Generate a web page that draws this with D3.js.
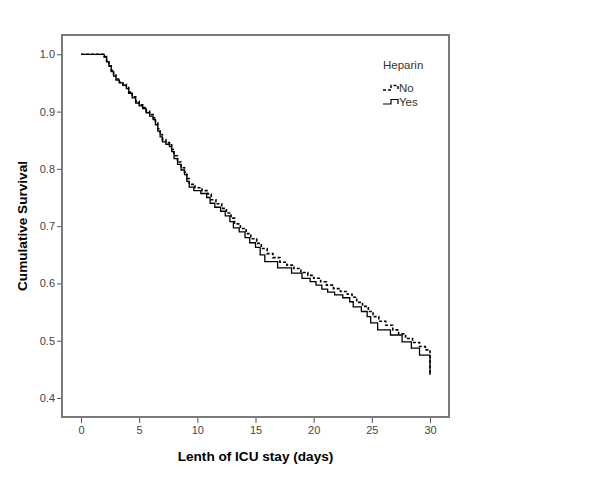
<!DOCTYPE html>
<html>
<head>
<meta charset="utf-8">
<script src="https://cdn.jsdelivr.net/npm/d3@7"></script>
<style>
  body { margin: 0; background: #fff; }
  text { font-family: Arial, "Liberation Sans", sans-serif; }
</style>
</head>
<body>
<svg id="svg" width="600" height="480"></svg>
<script>
// Kaplan-Meier curves (day, cumulative survival after the step)
const yesDays = [0, 2.0, 2.2, 2.4, 2.6, 2.8, 3.0, 3.3, 3.6, 3.9, 4.1, 4.4, 4.7, 5.0, 5.3, 5.6, 5.9, 6.2, 6.4, 6.6, 6.8, 7.0, 7.3, 7.6, 7.8, 8.0, 8.3, 8.6, 8.9, 9.1, 9.3, 9.7, 10.3, 10.8, 11.1, 11.5, 12.0, 12.4, 12.8, 13.1, 13.6, 14.1, 14.5, 15.0, 15.4, 15.8, 16.9, 18.1, 19.0, 19.7, 20.2, 20.7, 21.2, 21.8, 22.5, 23.1, 23.4, 24.1, 24.6, 24.9, 25.5, 26.6, 27.6, 28.4, 29.1, 30.0];
const yesSurv = [1.0, 0.995, 0.987, 0.979, 0.970, 0.962, 0.955, 0.950, 0.946, 0.940, 0.932, 0.924, 0.915, 0.910, 0.905, 0.898, 0.892, 0.886, 0.877, 0.866, 0.856, 0.847, 0.843, 0.839, 0.830, 0.818, 0.808, 0.798, 0.790, 0.778, 0.768, 0.762, 0.757, 0.750, 0.740, 0.733, 0.726, 0.718, 0.708, 0.697, 0.690, 0.680, 0.671, 0.663, 0.650, 0.638, 0.627, 0.618, 0.609, 0.603, 0.597, 0.590, 0.585, 0.580, 0.575, 0.568, 0.559, 0.551, 0.542, 0.531, 0.519, 0.510, 0.498, 0.487, 0.475, 0.440];

const noDays = [0, 2.0, 2.2, 2.4, 2.6, 2.8, 3.0, 3.3, 3.6, 3.9, 4.1, 4.4, 4.7, 5.0, 5.3, 5.6, 5.9, 6.2, 6.4, 6.6, 6.8, 7.0, 7.3, 7.6, 7.8, 8.0, 8.3, 8.6, 8.9, 9.1, 9.3, 9.8, 10.4, 10.9, 11.2, 11.6, 12.1, 12.5, 12.9, 13.2, 13.7, 14.2, 14.6, 15.1, 15.5, 16.0, 16.5, 17.1, 17.7, 18.3, 18.9, 19.5, 20.0, 20.6, 21.1, 21.7, 22.3, 22.9, 23.3, 23.7, 24.2, 24.7, 25.1, 25.6, 26.2, 26.8, 27.3, 27.9, 28.5, 29.1, 29.6, 30.0];
const noSurv = [1.0, 0.996, 0.988, 0.980, 0.972, 0.964, 0.957, 0.951, 0.947, 0.942, 0.934, 0.926, 0.918, 0.912, 0.907, 0.901, 0.895, 0.889, 0.880, 0.870, 0.860, 0.851, 0.846, 0.842, 0.834, 0.823, 0.812, 0.802, 0.794, 0.783, 0.773, 0.767, 0.762, 0.756, 0.746, 0.739, 0.731, 0.723, 0.714, 0.704, 0.696, 0.687, 0.678, 0.670, 0.661, 0.652, 0.645, 0.637, 0.632, 0.626, 0.619, 0.614, 0.609, 0.603, 0.597, 0.591, 0.586, 0.581, 0.576, 0.567, 0.560, 0.551, 0.542, 0.534, 0.527, 0.519, 0.512, 0.504, 0.497, 0.490, 0.484, 0.440];

const xTicks = [0, 5, 10, 15, 20, 25, 30];
const yTicks = [0.4, 0.5, 0.6, 0.7, 0.8, 0.9, 1.0];
const groups = ["No", "Yes"];

const svg = d3.select("#svg");
const frame = { left: 62, right: 449, top: 35, bottom: 417 };

const x = d3.scaleLinear().domain([0, 30]).range([81, 430]);
const y = d3.scaleLinear().domain([0.4, 1.0]).range([398, 54.3]);

// y axis ticks
const yAxis = svg.append("g")
  .attr("transform", "translate(" + frame.left + ",0)")
  .call(d3.axisLeft(y).tickValues(yTicks).tickFormat(d3.format(".1f")).tickSize(5).tickPadding(2));
yAxis.select(".domain").remove();
yAxis.selectAll("line").attr("stroke", "#555");
yAxis.selectAll("text").attr("fill", "#444").style("font-size", "11px");

// x axis ticks, hanging below the frame
const xAxis = svg.append("g")
  .attr("transform", "translate(0," + frame.bottom + ")")
  .call(d3.axisBottom(x).tickValues(xTicks).tickSize(6).tickPadding(3));
xAxis.select(".domain").remove();
xAxis.selectAll("line").attr("stroke", "#555");
xAxis.selectAll("text").attr("fill", "#444").style("font-size", "11px");

// plot frame
svg.append("rect")
  .attr("x", frame.left)
  .attr("y", frame.top)
  .attr("width", frame.right - frame.left)
  .attr("height", frame.bottom - frame.top)
  .attr("fill", "none")
  .attr("stroke", "#7a7a7a")
  .attr("stroke-width", 2);

const line = d3.line()
  .x((d) => x(d[0]))
  .y((d) => y(d[1]))
  .curve(d3.curveStepAfter);

// step curve, the last step at day 30 is a straight vertical drop
function kmPath(days, surv) {
  const pts = days.slice(0, -1).map((d, i) => [d, surv[i]]);
  const n = days.length - 1;
  pts.push([days[n], surv[n - 1]]);
  return line(pts) + "L" + x(days[n]) + "," + y(surv[n]);
}

svg.append("path")
  .attr("d", kmPath(yesDays, yesSurv))
  .attr("fill", "none")
  .attr("stroke", "#000")
  .attr("stroke-width", 1.3);

svg.append("path")
  .attr("d", kmPath(noDays, noSurv))
  .attr("fill", "none")
  .attr("stroke", "#000")
  .attr("stroke-width", 1.6)
  .attr("stroke-dasharray", "3,2");

// legend
const legend = svg.append("g");
legend.append("text")
  .attr("x", 383)
  .attr("y", 69)
  .attr("fill", "#333")
  .style("font-size", "11.5px")
  .text("Heparin");

groups.forEach((g, i) => {
  const ly = 90 + i * 14;
  legend.append("path")
    .attr("d", "M383," + ly + "H391V" + (ly - 4.5) + "H398V" + ly)
    .attr("fill", "none")
    .attr("stroke", "#000")
    .attr("stroke-width", g === "No" ? 1.5 : 1.2)
    .attr("stroke-dasharray", g === "No" ? "3,2" : null);
  legend.append("text")
    .attr("x", 399)
    .attr("y", ly + 2)
    .attr("fill", "#333")
    .style("font-size", "11.5px")
    .text(g);
});

// axis titles
svg.append("text")
  .attr("x", (frame.left + frame.right) / 2)
  .attr("y", 461)
  .attr("text-anchor", "middle")
  .style("font-size", "13.6px")
  .style("font-weight", "bold")
  .text("Lenth of ICU stay (days)");

svg.append("text")
  .attr("transform", "translate(27," + (frame.top + frame.bottom) / 2 + ") rotate(-90)")
  .attr("text-anchor", "middle")
  .style("font-size", "13.6px")
  .style("font-weight", "bold")
  .text("Cumulative Survival");
</script>
</body>
</html>
